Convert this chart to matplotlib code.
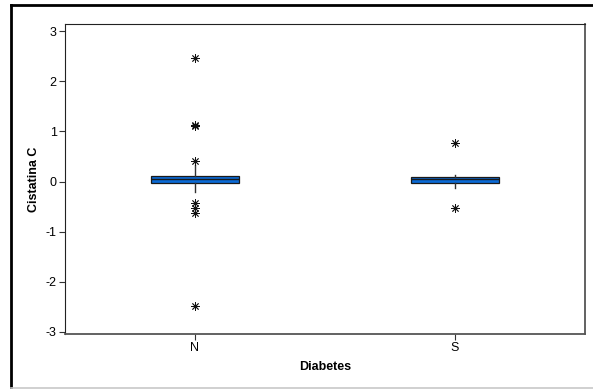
import matplotlib
matplotlib.use('Agg')
import matplotlib.pyplot as plt
from matplotlib.lines import Line2D

plt.rcParams['font.family'] = ['Liberation Sans', 'DejaVu Sans']
plt.rcParams['axes.unicode_minus'] = False

# summary statistics for each group
groups = ['N', 'S']
q1 = [-0.02, -0.03]
medians = [0.04, 0.04]
q3 = [0.11, 0.09]
whisker_low = [-0.20, -0.13]
whisker_high = [0.32, 0.12]
outliers = [
    [2.47, 1.12, 1.10, 0.40, -0.42, -0.52, -0.62, -2.49],
    [0.76, -0.52],
]

stats = []
for i, name in enumerate(groups):
    stats.append({
        'label': name,
        'q1': q1[i],
        'med': medians[i],
        'q3': q3[i],
        'whislo': whisker_low[i],
        'whishi': whisker_high[i],
        'fliers': outliers[i],
    })

fig = plt.figure(figsize=(5.93, 3.89), dpi=100)
ax = fig.add_axes([0.1096, 0.1414, 0.8769, 0.7969])

ax.bxp(stats, positions=[1, 2], widths=0.34, patch_artist=True, showcaps=False,
       boxprops=dict(facecolor='#0a6ad6', edgecolor='#1a1a1a', linewidth=0.9),
       medianprops=dict(color='#1a1a1a', linewidth=1.0),
       whiskerprops=dict(color='#333333', linewidth=1.0),
       flierprops=dict(marker=(8, 2, 0), markersize=6, markeredgecolor='#111111',
                       markeredgewidth=0.6, linestyle='none'))

ax.set_xlim(0.5, 2.5)
ax.set_ylim(-3.04, 3.14)
ax.set_yticks([-3, -2, -1, 0, 1, 2, 3])
ax.set_xticks([1, 2])
ax.set_xticklabels(groups)

for side in ['left', 'top']:
    ax.spines[side].set_color('#222222')
for side in ['right', 'bottom']:
    ax.spines[side].set_color('#555555')
    ax.spines[side].set_linewidth(1.3)

ax.tick_params(axis='both', labelsize=9, length=4, width=0.8, color='#333333', pad=2)
ax.set_ylabel('Cistatina C', fontsize=9, fontweight='bold', labelpad=4)
ax.set_xlabel('Diabetes', fontsize=9, fontweight='bold', labelpad=5)

# outer frame around the whole chart
W, H = 593.0, 389.0
fig.add_artist(Line2D([11 / W, 1.0], [1 - 5 / H, 1 - 5 / H], color='black', linewidth=2,
                      transform=fig.transFigure))
fig.add_artist(Line2D([11 / W, 11 / W], [1 - 5 / H, 1 / H], color='black', linewidth=2,
                      transform=fig.transFigure))
fig.add_artist(Line2D([11 / W, 1.0], [1.5 / H, 1.5 / H], color='#c8c8c8', linewidth=1.2,
                      transform=fig.transFigure))

fig.savefig('out.png', dpi=100)
